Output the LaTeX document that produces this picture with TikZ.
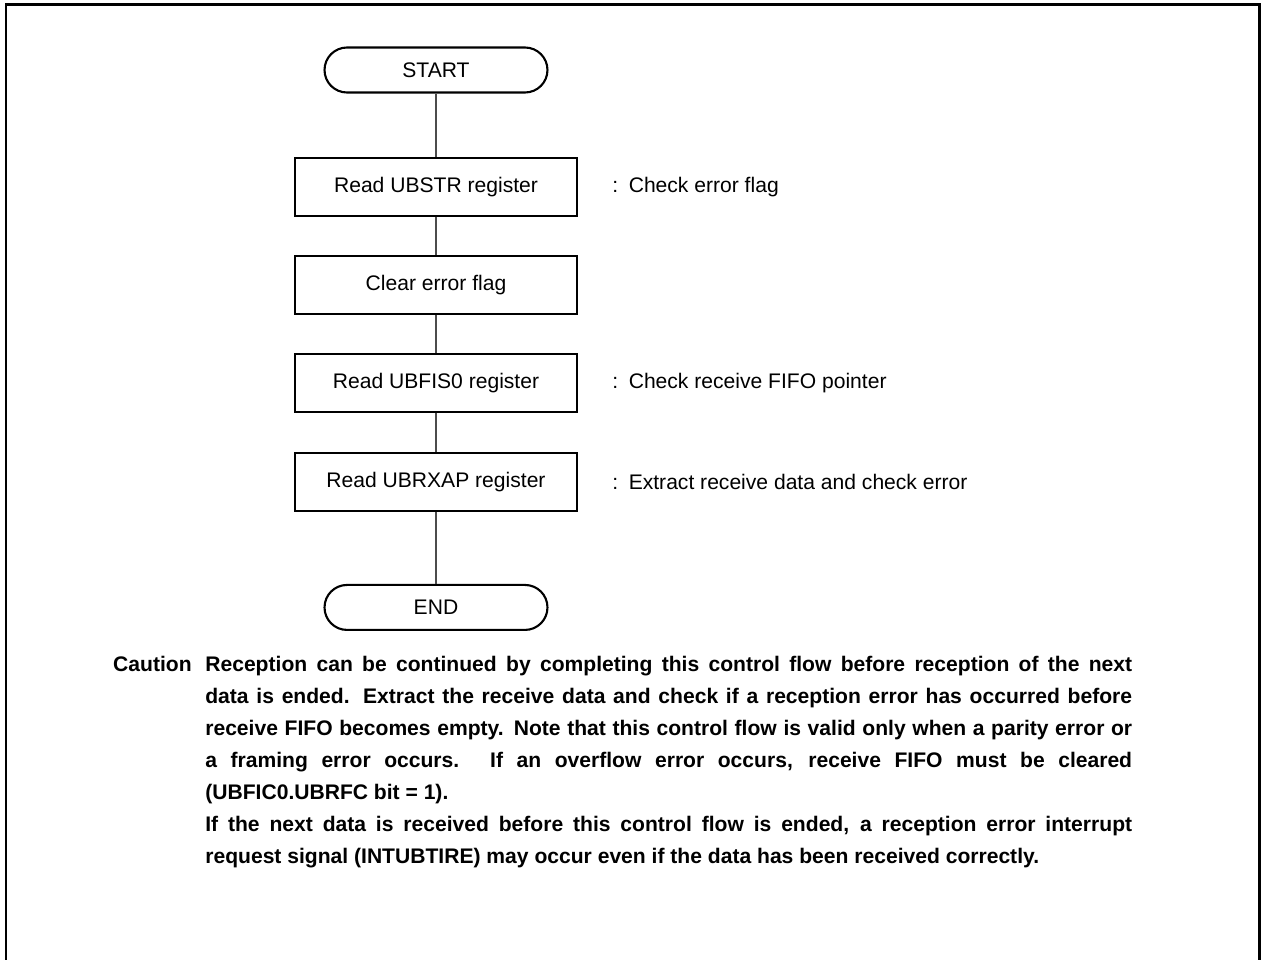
\documentclass[tikz,border=0pt]{standalone}
\usepackage{fontspec}
\setmainfont{Liberation Sans}
\usetikzlibrary{positioning}
\tikzset{
  stepbox/.style={
    draw, line width=1.2pt, minimum width=5.64cm, minimum height=1.16cm,
    inner sep=4pt, align=center, font=\fontsize{12}{14}\selectfont
  },
  terminal/.style={
    draw, line width=1.2pt, rounded corners=0.45cm, minimum width=4.46cm,
    minimum height=0.9cm, inner sep=4pt, font=\fontsize{12}{14}\selectfont
  },
  note/.style={inner sep=0pt, anchor=west, font=\fontsize{12}{14}\selectfont},
  link/.style={line width=0.6pt, black!70},
  frame/.style={line width=1.7pt, line cap=rect}
}

\begin{document}
\begin{tikzpicture}[x=0.02cm, y=-0.02cm]
  \useasboundingbox (0,0) rectangle (1262,960);
  \draw[frame] (6,962) -- (6,4.5) -- (1259,4.5) -- (1259,962);

  \node[terminal] (start) at (436,70) {START};
  \node[stepbox, below=1.26cm of start] (rdstr) {Read UBSTR register};
  \node[stepbox, below=0.76cm of rdstr] (clrflag) {Clear error flag};
  \node[stepbox, below=0.76cm of clrflag] (rdfis) {Read UBFIS0 register};
  \node[stepbox, below=0.78cm of rdfis] (rdrxap) {Read UBRXAP register};
  \node[terminal, below=1.44cm of rdrxap] (end) {END};

  \node[note, right=0.68cm of rdstr] (cmtstr) {:\enspace Check error flag};
  \node[note, right=0.68cm of rdfis] (cmtfis) {:\enspace Check receive FIFO pointer};
  \node[note, right=0.68cm of rdrxap] (cmtrxap) {:\enspace Extract receive data and check error};

  \draw[link] (start) -- (rdstr);
  \draw[link] (rdstr) -- (clrflag);
  \draw[link] (clrflag) -- (rdfis);
  \draw[link] (rdfis) -- (rdrxap);
  \draw[link] (rdrxap) -- (end);

  % caution text under the flow
  \node[inner sep=0pt, anchor=north west, text width=18.54cm, align=justify,
    font=\fontsize{12}{18.2}\bfseries\selectfont] (cautiontxt) at (205,649)
    {\strut Reception can be continued by completing this control flow before reception of the next\linebreak
     data is ended.  Extract the receive data and check if a reception error has occurred before\linebreak
     receive FIFO becomes empty.  Note that this control flow is valid only when a parity error or\linebreak
     a framing error occurs.  If an overflow error occurs, receive FIFO must be cleared\linebreak
     (UBFIC0.UBRFC bit = 1).\\
     If the next data is received before this control flow is ended, a reception error interrupt\linebreak
     request signal (INTUBTIRE) may occur even if the data has been received correctly.};
  \node[inner sep=0pt, anchor=north east, font=\fontsize{12}{18.2}\bfseries\selectfont]
    (cautionlbl) at (192,649) {\strut Caution};
\end{tikzpicture}
\end{document}
